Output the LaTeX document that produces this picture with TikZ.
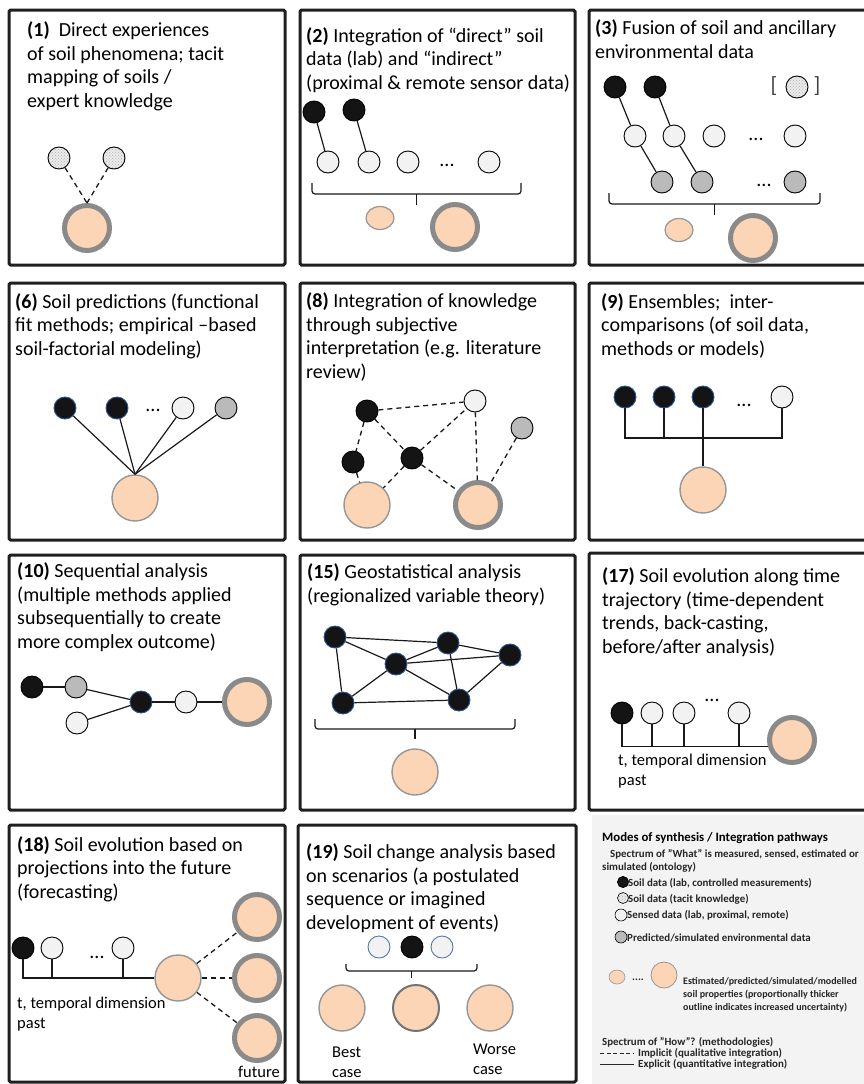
\documentclass[tikz,border=0pt]{standalone}
\usepackage{fontspec}
\setmainfont{Carlito}
\usetikzlibrary{shapes.geometric,patterns}

\definecolor{soilfill}{RGB}{251,213,181}
\definecolor{rimgray}{RGB}{138,138,138}
\definecolor{labblue}{RGB}{46,84,150}
\definecolor{keybg}{RGB}{243,243,243}

\tikzset{
  panel/.style={draw=black!88,line width=3pt,rounded corners=1.5pt},
  title/.style={anchor=base west,align=left,inner sep=0pt,font=\fontsize{20}{23.5}\selectfont},
  note/.style={anchor=base west,align=left,inner sep=0pt,font=\fontsize{16.5}{20}\selectfont},
  etc/.style={anchor=base,inner sep=0pt,font=\fontsize{20}{20}\selectfont},
  keyhead/.style={anchor=base west,inner sep=0pt,font=\bfseries\fontsize{12.8}{14}\selectfont},
  keytext/.style={anchor=base west,align=left,inner sep=0pt,text=black!85,font=\bfseries\fontsize{10.9}{13}\selectfont},
  datum/.style={circle,draw=black,line width=0.9pt,inner sep=0pt,minimum size=22pt},
  soil/.style={datum,fill=black!92},
  soilb/.style={soil,draw=labblue},
  tacit/.style={datum,preaction={fill=black!8},pattern=crosshatch dots,pattern color=black!30},
  sensed/.style={datum,fill=black!5},
  sensedb/.style={sensed,draw=labblue!80},
  pred/.style={datum,fill=black!27},
  est/.style={circle,inner sep=0pt,minimum size=46pt,fill=soilfill,draw=rimgray!90,line width=1.4pt},
  estu/.style={est,minimum size=45pt,draw=rimgray,line width=5pt},
  estsmall/.style={ellipse,inner sep=0pt,minimum width=28pt,minimum height=23pt,fill=soilfill,draw=rimgray!90,line width=1.2pt},
  explicit/.style={draw=black!90,line width=1.2pt},
  implicit/.style={draw=black!90,line width=1.3pt,dash pattern=on 5pt off 4pt}
}

\newcommand{\databrace}[4]{%
  \draw[explicit,rounded corners=3pt] (#1,#3) |- (#2,#3+#4) -- (#2,#3);
  \draw[explicit] ({(#1+#2)/2},#3+#4) -- ++(0,#4);}

\begin{document}
\begin{tikzpicture}[x=1pt,y=-1pt]
\clip (0,0) rectangle (864,1084);
\fill[white] (0,0) rectangle (864,1084);
\fill[keybg] (592,815) rectangle (864,1084);

\foreach \xa/\ya/\xb/\yb in {9/10/285/265,300/10/575/265,589/10/880/265,
  9/283/285/540,300/283/575/540,589/283/880/540,
  9/555/285/810,300/555/575/810,589/553/880/810,
  9/825/285/1082,298/825/576/1082}
  \draw[panel] (\xa,\ya) rectangle (\xb,\yb);

\node[title] (T1) at (27,107) {\textbf{(1)}\ \ Direct experiences\\of soil phenomena; tacit\\mapping of soils /\\expert knowledge};
\node[tacit] (a1) at (59,158) {};
\node[tacit] (a2) at (114,158) {};
\node[estu] (a0) at (87,228) {};
\draw[implicit] (a1) -- (a0.north);
\draw[implicit] (a2) -- (a0.north);

\node[title] (T2) at (306,89) {\textbf{(2)} Integration of “direct” soil\\data (lab) and “indirect”\\(proximal \& remote sensor data)};
\node[soil] (b1) at (314,112) {};
\node[soil] (b2) at (354,110) {};
\node[sensed] (b3) at (328,162) {};
\node[sensed] (b4) at (369,162) {};
\node[sensed] (b5) at (408,162) {};
\node[etc] at (447,166) {...};
\node[sensed] (b6) at (489,162) {};
\draw[explicit] (b1) -- (b3);
\draw[explicit] (b2) -- (b4);
\databrace{312}{521}{183}{11}
\node[estsmall] (b7) at (380,218) {};
\node[estu] (b8) at (455,227) {};

\node[title] (T3) at (595,58) {\textbf{(3)} Fusion of soil and ancillary\\environmental data};
\node[soil] (c1) at (615,87) {};
\node[soil] (c2) at (655,87) {};
\node[font=\fontsize{22}{22}\selectfont,text=black!75] at (774,86) {[};
\node[tacit] (c0) at (797,87) {};
\node[font=\fontsize{22}{22}\selectfont,text=black!75] at (817,86) {]};
\node[sensed] (c3) at (635,136) {};
\node[sensed] (c4) at (674,136) {};
\node[sensed] (c5) at (714,136) {};
\node[etc] at (756,140) {...};
\node[sensed] (c6) at (795,136) {};
\node[pred] (c7) at (662,182) {};
\node[pred] (c8) at (702,182) {};
\node[etc] at (764,186) {...};
\node[pred] (c9) at (795,182) {};
\draw[explicit] (c1) -- (c3);
\draw[explicit] (c2) -- (c4);
\draw[explicit] (c3) -- (c7);
\draw[explicit] (c4) -- (c8);
\databrace{609}{820}{193}{11}
\node[estsmall] (c10) at (679,230) {};
\node[estu] (c11) at (753,238) {};

\node[title] (T6) at (15,355) {\textbf{(6)} Soil predictions (functional\\fit methods; empirical –based\\soil-factorial modeling)};
\node[soilb] (d1) at (65,408) {};
\node[soilb] (d2) at (117,408) {};
\node[etc] at (153,411) {...};
\node[sensed] (d3) at (183,408) {};
\node[pred] (d4) at (226,408) {};
\node[est] (d0) at (135,498) {};
\foreach \n in {d1,d2,d3,d4}
  \draw[explicit] (\n) -- (d0.north);

\node[title] (T8) at (306,378) {\textbf{(8)} Integration of knowledge\\through subjective\\interpretation (e.g. literature\\review)};
\node[soil] (e1) at (367,411) {};
\node[sensed] (e2) at (475,401) {};
\node[pred] (e3) at (522,428) {};
\node[soil] (e4) at (353,462) {};
\node[soil] (e5) at (412,458) {};
\node[est] (e6) at (367,505) {};
\node[estu] (e7) at (478,505) {};
\draw[implicit] (e1) -- (e2);
\draw[implicit] (e1) -- (e4);
\draw[implicit] (e1) -- (e5);
\draw[implicit] (e5) -- (e2);
\draw[implicit] (e2) -- (e7);
\draw[implicit] (e3) -- (e7);
\draw[implicit] (e4) -- (e6);
\draw[implicit] (e5) -- (e6);
\draw[implicit] (e5) -- (e7);

\node[title] (T9) at (601,355) {\textbf{(9)} Ensembles;\ \ inter-\\comparisons (of soil data,\\methods or models)};
\node[soilb] (f1) at (625,397) {};
\node[soilb] (f2) at (664,397) {};
\node[soilb] (f3) at (703,397) {};
\node[etc] at (744,406) {...};
\node[sensed] (f4) at (782,397) {};
\node[est] (f0) at (703,490) {};
\coordinate (fb) at (703,438);
\draw[explicit] (f1.south) |- (f4.south |- fb) -- (f4.south);
\foreach \n in {f2,f3}
  \draw[explicit] (\n.south) -- (\n.south |- fb);
\draw[explicit] (fb) -- (f0.north);

\node[title] (T10) at (17,648) {\textbf{(10)} Sequential analysis\\(multiple methods applied\\subsequentially to create\\more complex outcome)};
\node[soil] (g1) at (32,687) {};
\node[pred] (g2) at (76,687) {};
\node[sensed] (g3) at (77,723) {};
\node[soilb] (g4) at (141,702) {};
\node[sensed] (g5) at (186,702) {};
\node[estu] (g6) at (247,702) {};
\draw[explicit] (g1) -- (g2);
\draw[explicit] (g2) -- (g4);
\draw[explicit] (g3) -- (g4);
\draw[explicit] (g4) -- (g5);
\draw[explicit] (g5) -- (g6);

\node[title] (T15) at (307,602) {\textbf{(15)} Geostatistical analysis\\(regionalized variable theory)};
\node[soilb] (h1) at (335,637) {};
\node[soilb] (h2) at (448,643) {};
\node[soilb] (h3) at (510,655) {};
\node[soilb] (h4) at (396,664) {};
\node[soilb] (h5) at (343,703) {};
\node[soilb] (h6) at (459,700) {};
\foreach \p/\q in {h1/h2,h1/h4,h1/h5,h2/h4,h2/h3,h2/h6,h4/h3,h4/h5,h4/h6,h5/h6,h6/h3}
  \draw[explicit] (\p) -- (\q);
\databrace{315}{515}{719}{10}
\node[est] (h0) at (415,772) {};

\node[title] (T17) at (602,653) {\textbf{(17)} Soil evolution along time\\trajectory (time-dependent\\trends, back-casting,\\before/after analysis)};
\node[soil] (i1) at (622,713) {};
\node[sensed] (i2) at (652,713) {};
\node[sensed] (i3) at (684,713) {};
\node[etc] at (712,701) {...};
\node[sensed] (i4) at (739,713) {};
\node[estu] (i0) at (792,740) {};
\draw[explicit] (i1.south) |- (i0.196);
\foreach \n in {i2,i3,i4}
  \draw[explicit] (\n.south) -- (\n.south |- i0.196);
\node[note] at (618,785) {t, temporal dimension\\past};

\node[title] (T18) at (17,898) {\textbf{(18)} Soil evolution based on\\projections into the future\\(forecasting)};
\node[soil] (j1) at (23,948) {};
\node[sensed] (j2) at (52,948) {};
\node[etc] at (97,958) {...};
\node[sensed] (j3) at (123,948) {};
\node[est] (j0) at (178,978) {};
\node[estu] (j4) at (257,917) {};
\node[estu] (j5) at (257,978) {};
\node[estu] (j6) at (257,1038) {};
\draw[explicit] (j1.south) |- (j0.west);
\foreach \n in {j2,j3}
  \draw[explicit] (\n.south) -- (\n.south |- j0.west);
\foreach \n in {j4,j5,j6}
  \draw[implicit] (j0) -- (\n);
\node[note] at (17,1028) {t, temporal dimension\\past};
\node[note] at (238,1077) {future};

\node[title] (T19) at (306,929) {\textbf{(19)} Soil change analysis based\\on scenarios (a postulated\\sequence or imagined\\development of events)};
\node[sensedb] (k1) at (379,947) {};
\node[soil] (k2) at (412,947) {};
\node[sensedb] (k3) at (442,947) {};
\databrace{346}{477}{964}{7}
\node[est] (k4) at (342,1008) {};
\node[est,draw=black!55,line width=2pt] (k5) at (416,1008) {};
\node[est] (k6) at (490,1008) {};
\node[note] at (332,1077) {Best\\case};
\node[note] at (473,1074) {Worse\\case};

\node[keyhead] (key0) at (602,841) {Modes of synthesis / Integration pathways};
\node[keytext] at (610,857) {Spectrum of "What" is measured, sensed, estimated or};
\node[keytext] at (602,870) {simulated (ontology)};
\node[soil,minimum size=11pt] (key1) at (623,882) {};
\node[keytext] at (628,886) {Soil data (lab, controlled measurements)};
\node[tacit,minimum size=11pt,line width=0.6pt] (key2) at (623,898) {};
\node[keytext] at (628,902) {Soil data (tacit knowledge)};
\node[sensed,minimum size=12pt,line width=0.6pt] (key3) at (621,915) {};
\node[keytext] at (627,918) {Sensed data (lab, proximal, remote)};
\node[pred,minimum size=12pt,line width=0.6pt] (key4) at (621,937) {};
\node[keytext] at (627,941) {Predicted/simulated environmental data};
\node[estsmall,minimum width=16pt,minimum height=14pt,line width=0.6pt] (key5) at (617,977) {};
\node[keytext] at (632,980) {....};
\node[est,minimum size=26pt,line width=0.8pt] (key6) at (664,975) {};
\node[keytext,font=\bfseries\fontsize{10}{13}\selectfont] at (683,1010) {Estimated/predicted/simulated/modelled\\soil properties (proportionally thicker\\outline indicates increased uncertainty)};
\node[keytext] at (602,1045) {Spectrum of "How"? (methodologies)};
\coordinate (key7) at (600,1053);
\coordinate (key8) at (634,1053);
\draw[draw=black!85,line width=0.8pt,dash pattern=on 4pt off 2.5pt] (key7) -- (key8);
\node[keytext] at (638,1056) {Implicit (qualitative integration)};
\coordinate (key9) at (600,1064);
\coordinate (key10) at (634,1064);
\draw[draw=black!85,line width=0.8pt] (key9) -- (key10);
\node[keytext] at (638,1067) {Explicit (quantitative integration)};
\end{tikzpicture}
\end{document}
